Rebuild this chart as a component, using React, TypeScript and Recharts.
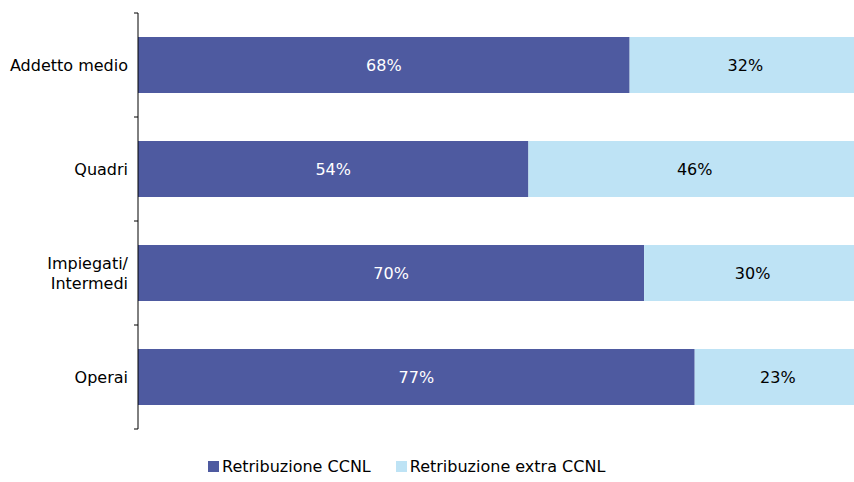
import { BarChart, Bar, XAxis, YAxis, Legend, LabelList } from 'recharts';

const categories = ['Addetto medio', 'Quadri', 'Impiegati/\nIntermedi', 'Operai'];
const ccnl = [68, 54, 70, 77];
const extraCcnl = [32, 46, 30, 23];
const seriesNames = ['Retribuzione CCNL', 'Retribuzione extra CCNL'];

const DARK = '#4E5AA0';
const LIGHT = '#BEE3F5';
const FONT = '"DejaVu Sans", sans-serif';

const data = categories.map((name, i) => ({ name, ccnl: ccnl[i], extra: extraCcnl[i] }));

const CategoryTick = (props: any) => {
  const { x, y, payload, index, visibleTicksCount } = props;
  const half = payload.offset || 0;
  const lines = String(payload.value).split('\n');
  const axisX = x + 10;
  return (
    <g>
      <line x1={axisX - 4} x2={axisX} y1={y - half} y2={y - half} stroke="#000" />
      {index === visibleTicksCount - 1 && (
        <line x1={axisX - 4} x2={axisX} y1={y + half} y2={y + half} stroke="#000" />
      )}
      <text x={x} y={y} textAnchor="end" fontSize={16} fill="#000" fontFamily={FONT}>
        {lines.map((l, k) => (
          <tspan key={k} x={x} dy={k === 0 ? `${0.35 - (lines.length - 1) * 0.62}em` : '1.24em'}>
            {l}
          </tspan>
        ))}
      </text>
    </g>
  );
};

const LegendContent = () => (
  <div style={{ display: 'flex', paddingLeft: 208, fontFamily: FONT, fontSize: 16, color: '#000', alignItems: 'center' }}>
    {[DARK, LIGHT].map((c, i) => (
      <div key={i} style={{ display: 'flex', alignItems: 'center', marginRight: 25 }}>
        <span style={{ width: 11, height: 11, background: c, display: 'inline-block', marginRight: 3 }} />
        <span>{seriesNames[i]}</span>
      </div>
    ))}
  </div>
);

export default function App() {
  return (
    <div style={{ position: 'absolute', left: 0, top: 0, width: 854, height: 482, overflow: 'hidden', background: '#fff' }}>
      <BarChart
        width={861}
        height={482}
        data={data}
        layout="vertical"
        barCategoryGap={24}
        margin={{ top: 13, right: 0, left: 0, bottom: 31 }}
      >
        <XAxis type="number" domain={[0, 100]} hide />
        <YAxis
          type="category"
          dataKey="name"
          width={138}
          axisLine={{ stroke: '#000' }}
          tickLine={false}
          tickSize={0}
          tickMargin={10}
          tick={<CategoryTick />}
          interval={0}
        />
        <Legend height={22} verticalAlign="bottom" wrapperStyle={{ top: 457, left: 0, width: 854 }} content={<LegendContent />} />
        <Bar dataKey="ccnl" stackId="a" fill={DARK} isAnimationActive={false} name={seriesNames[0]}>
          <LabelList dataKey="ccnl" position="center" formatter={(v: any) => `${v}%`} fill="#fff" fontSize={16} fontFamily={FONT} />
        </Bar>
        <Bar dataKey="extra" stackId="a" fill={LIGHT} isAnimationActive={false} name={seriesNames[1]}>
          <LabelList dataKey="extra" position="center" formatter={(v: any) => `${v}%`} fill="#000" fontSize={16} fontFamily={FONT} />
        </Bar>
      </BarChart>
    </div>
  );
}
